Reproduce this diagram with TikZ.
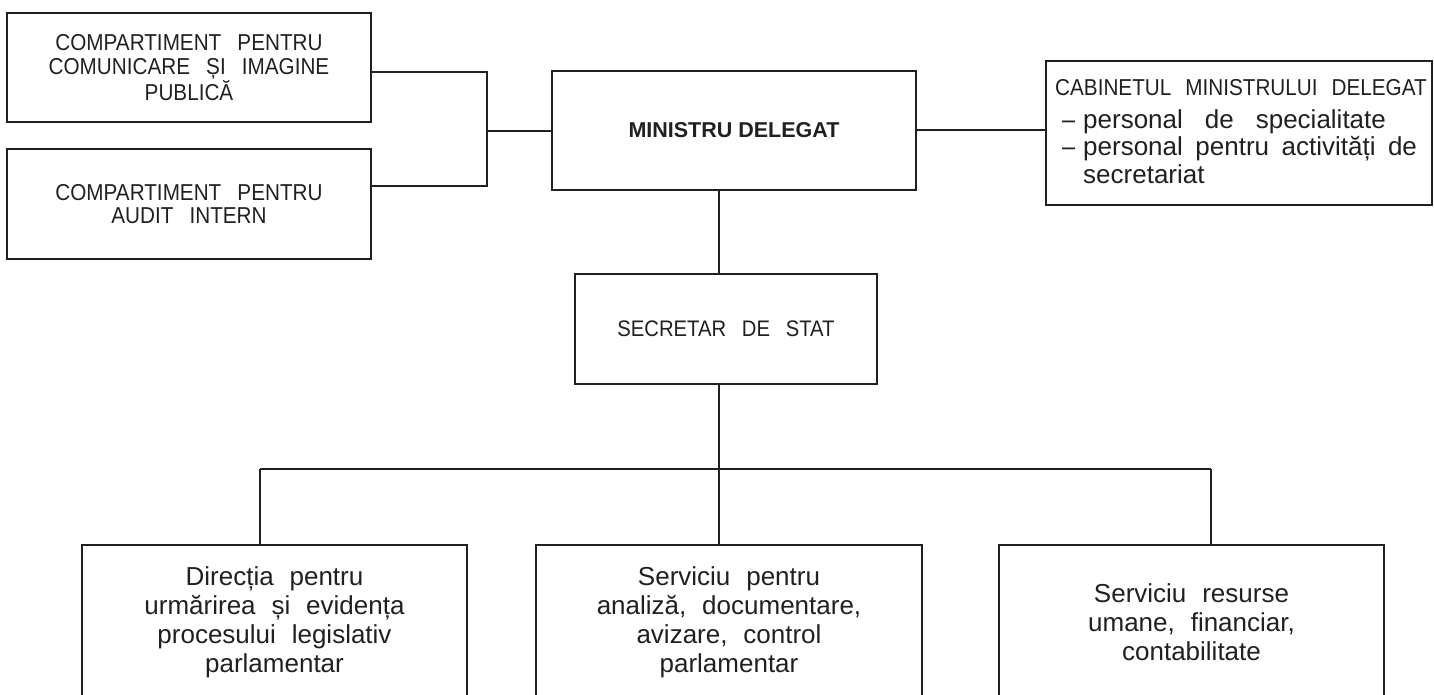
\documentclass[tikz,border=0pt]{standalone}
\usepackage{fontspec}
\usepackage{graphicx}
\setmainfont{Liberation Sans}[WordSpace=2.2]
\newfontfamily\normalspacefont{Liberation Sans}
\newfontfamily\narrowfont{Liberation Sans}[FakeStretch=0.9, WordSpace=2.8]
\definecolor{ink}{HTML}{231F20}
\newcommand{\topsize}{\narrowfont\fontsize{23}{23.5}\selectfont}
\newcommand{\botsize}{\fontsize{26}{29}\selectfont}
\newcommand{\cabdash}{\makebox[21pt][l]{\scalebox{0.5}[1]{—}}}
\begin{document}
\begin{tikzpicture}[x=1pt,y=-1pt,
  box/.style={draw=ink, line width=1.6pt, rectangle, inner sep=0pt, text=ink, align=center},
  conn/.style={draw=ink, line width=1.6pt},
  txt/.style={text=ink, inner sep=0pt, anchor=base west}]
\useasboundingbox (0,0) rectangle (1434,695);

% boxes
\node[box, minimum width=364pt, minimum height=109pt, font=\topsize] (A) at (189,67.5)
  {COMPARTIMENT PENTRU\\COMUNICARE ȘI IMAGINE\\PUBLICĂ};
\node[box, minimum width=364pt, minimum height=110pt, font=\topsize] (B) at (189,204)
  {COMPARTIMENT PENTRU\\AUDIT INTERN};
\node[box, minimum width=364pt, minimum height=119pt, font=\normalspacefont\bfseries\fontsize{21.5}{24}\selectfont] (M) at (734,130.5)
  {MINISTRU DELEGAT};
\node[box, minimum width=386pt, minimum height=144pt] (C) at (1239,133) {};
\node[box, minimum width=302pt, minimum height=110pt, font=\narrowfont\fontsize{22.5}{24}\selectfont] (S) at (726,329)
  {SECRETAR DE STAT};
\node[box, minimum width=385pt, minimum height=155pt, font=\botsize] (D1) at (274.5,622.5)
  {Direcția pentru\\urmărirea și evidența\\procesului legislativ\\parlamentar};
\node[box, minimum width=386pt, minimum height=155pt, font=\botsize] (D2) at (729,622.5)
  {Serviciu pentru\\analiză, documentare,\\avizare, control\\parlamentar};
\node[box, minimum width=385pt, minimum height=155pt, font=\botsize] (D3) at (1191.5,622.5)
  {Serviciu resurse\\umane, financiar,\\contabilitate};

% cabinet text
\node[txt, font=\narrowfont\fontsize{23}{24}\selectfont] (c1) at (1055,96) {CABINETUL\hspace{14pt}MINISTRULUI\hspace{14pt}DELEGAT};
\node[txt, font=\normalspacefont\botsize] (c2) at (1062,128.5)
  {\cabdash personal\hspace{22pt}de\hspace{22pt}specialitate};
\node[txt, font=\normalspacefont\botsize] (c3) at (1062,156)
  {\cabdash personal\hspace{12.5pt}pentru\hspace{12.5pt}activități\hspace{12.5pt}de};
\node[txt, font=\normalspacefont\botsize] (c4) at (1083,184) {secretariat};

% junctions
\coordinate (j1) at (487,72);
\coordinate (j2) at (487,186);
\coordinate (j) at (487,131);
\coordinate (t) at (719,469);
\coordinate (l) at (260,469);
\coordinate (r) at (1211,469);

% connectors
\draw[conn] (A.east |- j1) -- (j1) -- (j2) -- (B.east |- j2);
\draw[conn] (j) -- (M.west |- j);
\draw[conn] (M.east |- 0,130) -- (C.west |- 0,130);
\draw[conn] (M.south -| t) -- (S.north -| t);
\draw[conn] (S.south -| t) -- (t);
\draw[conn] (l) -- (r);
\draw[conn] (l) -- (D1.north -| l);
\draw[conn] (t) -- (D2.north -| t);
\draw[conn] (r) -- (D3.north -| r);
\end{tikzpicture}
\end{document}
